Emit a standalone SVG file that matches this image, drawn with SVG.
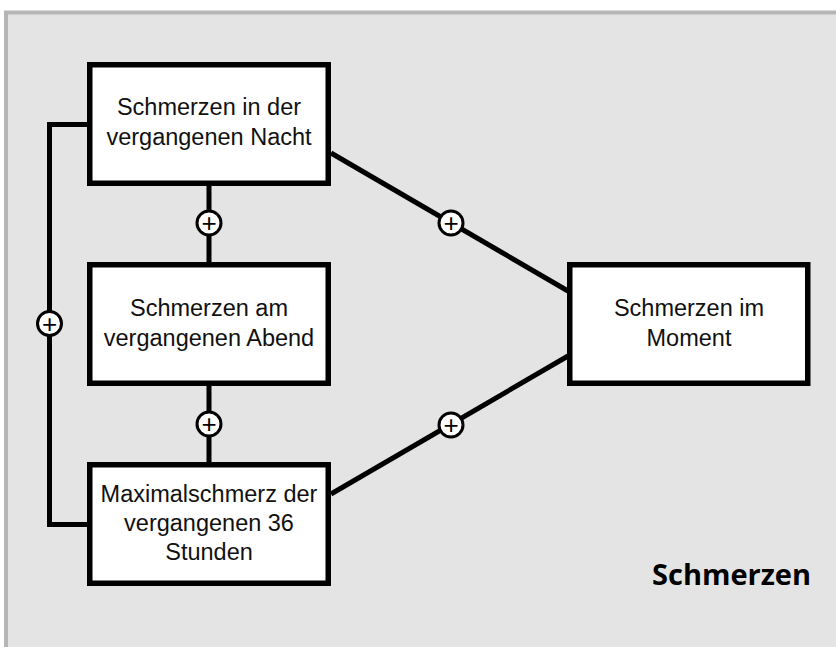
<svg xmlns="http://www.w3.org/2000/svg" width="836" height="647" viewBox="0 0 836 647">
<style>
.box{fill:#fff;stroke:#000;stroke-width:5.5}
.lbl{font-family:"Liberation Sans",Arial,sans-serif;font-size:23.5px;fill:#111;text-anchor:middle}
.con{fill:none;stroke:#000;stroke-width:5}
.pc{fill:#fff;stroke:#000;stroke-width:3}
.plus{font-family:"Liberation Sans",Arial,sans-serif;font-size:26px;fill:#000;text-anchor:middle}
.title{font-family:"Open Sans","Noto Sans",sans-serif;font-weight:bold;font-size:29px;fill:#000}
</style>
<rect x="6" y="12.5" width="840" height="660" fill="#e4e4e4" stroke="#b6b6b6" stroke-width="4"/>
<g id="connectors">
<line class="con" x1="209" y1="186" x2="209" y2="262"/>
<line class="con" x1="209" y1="386" x2="209" y2="462"/>
<polyline class="con" points="89,124.5 49.5,124.5 49.5,524.5 89,524.5"/>
<line class="con" x1="331" y1="153" x2="568" y2="291"/>
<line class="con" x1="331" y1="494" x2="568" y2="356"/>
<circle class="pc" cx="209" cy="223" r="12"/>
<text class="plus" x="209" y="232">+</text>
<circle class="pc" cx="209" cy="424" r="12"/>
<text class="plus" x="209" y="433">+</text>
<circle class="pc" cx="49.5" cy="323.5" r="12"/>
<text class="plus" x="49.5" y="332.5">+</text>
<circle class="pc" cx="451" cy="223" r="12"/>
<text class="plus" x="451" y="232">+</text>
<circle class="pc" cx="451" cy="425" r="12"/>
<text class="plus" x="451" y="434">+</text>
</g>
<g id="nacht">
<rect class="box" x="89.75" y="64.75" width="238.5" height="118.5"/>
<text class="lbl" x="209" y="115">Schmerzen in der</text>
<text class="lbl" x="209" y="145">vergangenen Nacht</text>
</g>
<g id="abend">
<rect class="box" x="89.75" y="264.75" width="238.5" height="118.5"/>
<text class="lbl" x="209" y="316">Schmerzen am</text>
<text class="lbl" x="209" y="346">vergangenen Abend</text>
</g>
<g id="max">
<rect class="box" x="89.75" y="464.75" width="238.5" height="118.5"/>
<text class="lbl" x="209" y="502">Maximalschmerz der</text>
<text class="lbl" x="209" y="531">vergangenen 36</text>
<text class="lbl" x="209" y="560">Stunden</text>
</g>
<g id="moment">
<rect class="box" x="569.75" y="264.75" width="238" height="118.5"/>
<text class="lbl" x="689" y="316">Schmerzen im</text>
<text class="lbl" x="689" y="346">Moment</text>
</g>
<text class="title" x="652" y="585">Schmerzen</text>
</svg>
